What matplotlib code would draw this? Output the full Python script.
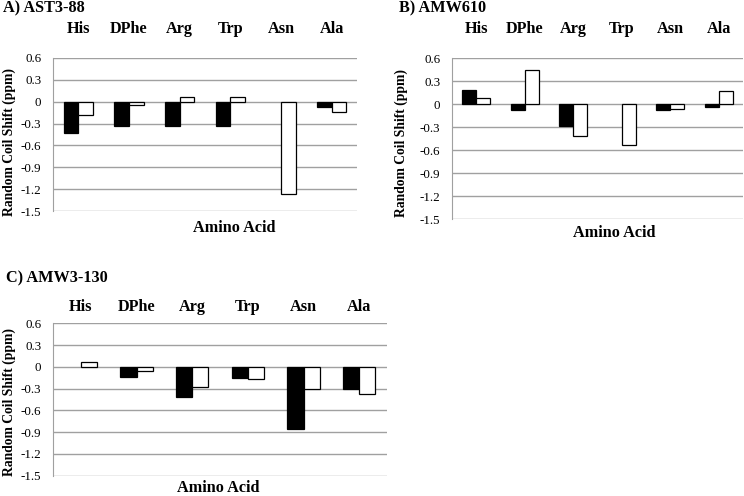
import numpy as np
import matplotlib.pyplot as plt

plt.rcParams['font.family'] = ['Liberation Serif', 'DejaVu Serif']

amino = ["His", "DPhe", "Arg", "Trp", "Asn", "Ala"]

# black bars / white bars for each peptide
a_black = [-0.43, -0.33, -0.33, -0.33, 0.0, -0.07]
a_white = [-0.18, -0.04, 0.07, 0.07, -1.26, -0.145]

b_black = [0.18, -0.08, -0.28, 0.0, -0.07, -0.03]
b_white = [0.08, 0.45, -0.42, -0.53, -0.06, 0.17]

c_black = [0.0, -0.14, -0.41, -0.15, -0.86, -0.31]
c_white = [0.06, -0.055, -0.28, -0.17, -0.30, -0.37]

yticks = [0.6, 0.3, 0, -0.3, -0.6, -0.9, -1.2, -1.5]

W, H = 744, 496
fig = plt.figure(figsize=(7.44, 4.96), dpi=100)


def px(x0, y0, x1, y1):
    return [x0 / W, 1 - y1 / H, (x1 - x0) / W, (y1 - y0) / H]


def panel(rect, black, white, pad):
    ax = fig.add_axes(rect)
    x = np.arange(len(amino))
    w = 0.29
    # no outline for bars with zero height
    lw_b = [0.9 if v != 0 else 0 for v in black]
    lw_w = [0.9 if v != 0 else 0 for v in white]
    ax.bar(x - w / 2, black, w, color="black", edgecolor="black", linewidth=lw_b, zorder=3)
    ax.bar(x + w / 2, white, w, color="white", edgecolor="black", linewidth=lw_w, zorder=3)
    ax.set_xlim(-0.5, len(amino) - 0.5)
    ax.set_ylim(-1.5, 0.6)
    ax.set_yticks(yticks)
    ax.set_yticklabels([f"{t:g}" for t in yticks], fontsize=9.4)
    ax.yaxis.grid(True, color="#a0a0a0", linewidth=1.0, zorder=0)
    ax.tick_params(axis="y", length=0, pad=8.5)
    ax.xaxis.tick_top()
    ax.set_xticks(x)
    ax.set_xticklabels(amino, fontsize=11.7, fontweight="bold")
    ax.tick_params(axis="x", length=0, pad=pad)
    for s in ["top", "right", "bottom"]:
        ax.spines[s].set_visible(False)
    ax.spines["left"].set_color("#a0a0a0")
    return ax


panel(px(53, 58, 357, 211), a_black, a_white, 15)
panel(px(452, 58.3, 743, 219), b_black, b_white, 15)
panel(px(53, 323.3, 387, 475.7), c_black, c_white, 6)

tk = dict(fontsize=11.7, fontweight="bold")
fig.text(3 / W, 1 - 8 / H, "A) AST3-88", ha="left", va="center", **tk)
fig.text(399 / W, 1 - 8 / H, "B) AMW610", ha="left", va="center", **tk)
fig.text(6 / W, 1 - 278 / H, "C) AMW3-130", ha="left", va="center", **tk)

fig.text(234 / W, 1 - 228 / H, "Amino Acid", ha="center", va="center", **tk)
fig.text(614 / W, 1 - 233 / H, "Amino Acid", ha="center", va="center", **tk)
fig.text(218 / W, 0.5 / H, "Amino Acid", ha="center", va="bottom", **tk)

yl = dict(fontsize=9.8, fontweight="bold", rotation=90, ha="center", va="center")
fig.text(9 / W, 1 - 142 / H, "Random Coil Shift (ppm)", **yl)
fig.text(401 / W, 1 - 143 / H, "Random Coil Shift (ppm)", **yl)
fig.text(9 / W, 1 - 402 / H, "Random Coil Shift (ppm)", **yl)

fig.savefig("out.png", dpi=100)
